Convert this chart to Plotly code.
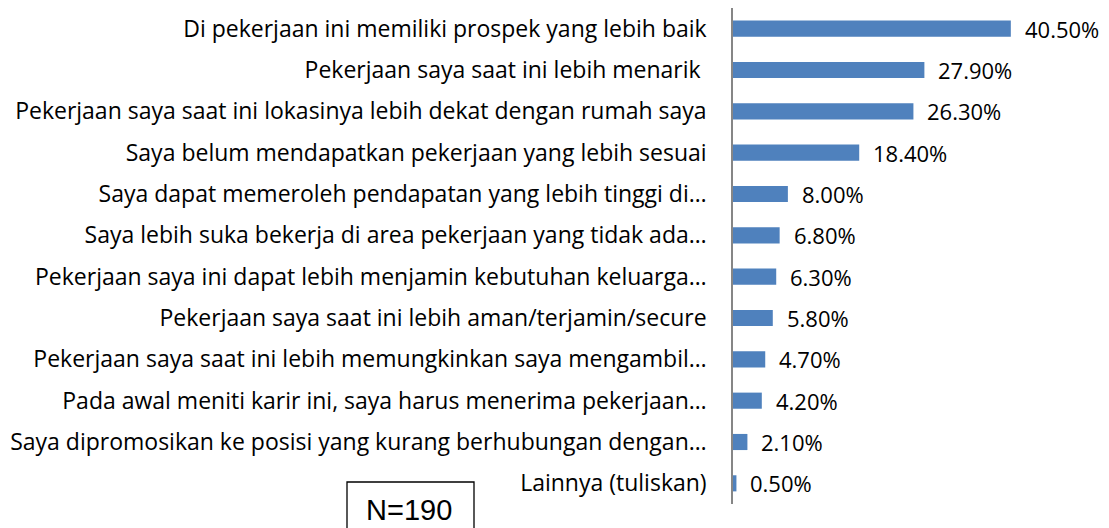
import plotly.graph_objects as go

categories = [
    "Di pekerjaan ini memiliki prospek yang lebih baik",
    "Pekerjaan saya saat ini lebih menarik ",
    "Pekerjaan saya saat ini lokasinya lebih dekat dengan rumah saya",
    "Saya belum mendapatkan pekerjaan yang lebih sesuai",
    "Saya dapat memeroleh pendapatan yang lebih tinggi di…",
    "Saya lebih suka bekerja di area pekerjaan yang tidak ada…",
    "Pekerjaan saya ini dapat lebih menjamin kebutuhan keluarga…",
    "Pekerjaan saya saat ini lebih aman/terjamin/secure",
    "Pekerjaan saya saat ini lebih memungkinkan saya mengambil…",
    "Pada awal meniti karir ini, saya harus menerima pekerjaan…",
    "Saya dipromosikan ke posisi yang kurang berhubungan dengan…",
    "Lainnya (tuliskan)",
]
values = [40.5, 27.9, 26.3, 18.4, 8.0, 6.8, 6.3, 5.8, 4.7, 4.2, 2.1, 0.5]
value_labels = [f"{v:.2f}%" for v in values]
note_text = "N=190"

FONT = "Open Sans"
OFF = 8  # page body margin
W, H = 1109 - OFF, 528 - OFF
L, R, T, B = 733 - OFF, 0, 0, 24

fig = go.Figure()
fig.add_trace(go.Bar(
    y=categories,
    x=values,
    orientation="h",
    marker=dict(color="#4F81BD", line=dict(width=0)),
    width=0.39,
    hoverinfo="skip",
))

for c, v, t in zip(categories, values, value_labels):
    fig.add_annotation(
        x=v, y=c, xref="x", yref="y", text=t, showarrow=False,
        xanchor="left", yanchor="middle", xshift=12,
        font=dict(family=FONT, size=22, color="#000000"),
    )

pw = W - L - R
ph = H - T - B

def px_to_paper_x(px):
    return (px - OFF - L) / pw

def px_to_paper_y(py):
    return (H - B - (py - OFF)) / ph

fig.add_shape(
    type="rect", xref="paper", yref="paper",
    x0=px_to_paper_x(347), x1=px_to_paper_x(474),
    y0=px_to_paper_y(545), y1=px_to_paper_y(482),
    line=dict(color="#000000", width=1.3), fillcolor="rgba(0,0,0,0)",
)
fig.add_annotation(
    x=px_to_paper_x(409), y=px_to_paper_y(510), xref="paper", yref="paper",
    text=note_text, showarrow=False, xanchor="center", yanchor="middle",
    font=dict(family="Liberation Sans", size=29, color="#000000"),
)

fig.update_layout(
    width=W, height=H,
    margin=dict(l=L, r=R, t=T, b=B, autoexpand=False),
    paper_bgcolor="white", plot_bgcolor="white",
    showlegend=False,
    bargap=0.61,
    xaxis=dict(range=[0, pw / 6.86], visible=False, fixedrange=True),
    yaxis=dict(
        autorange="reversed",
        showline=True, linecolor="#868686", linewidth=1.5,
        ticks="", showgrid=False, zeroline=False,
        tickfont=dict(family=FONT, size=23, color="#000000"),
        ticklabelstandoff=20,
    ),
)

fig.write_html("out.html")
